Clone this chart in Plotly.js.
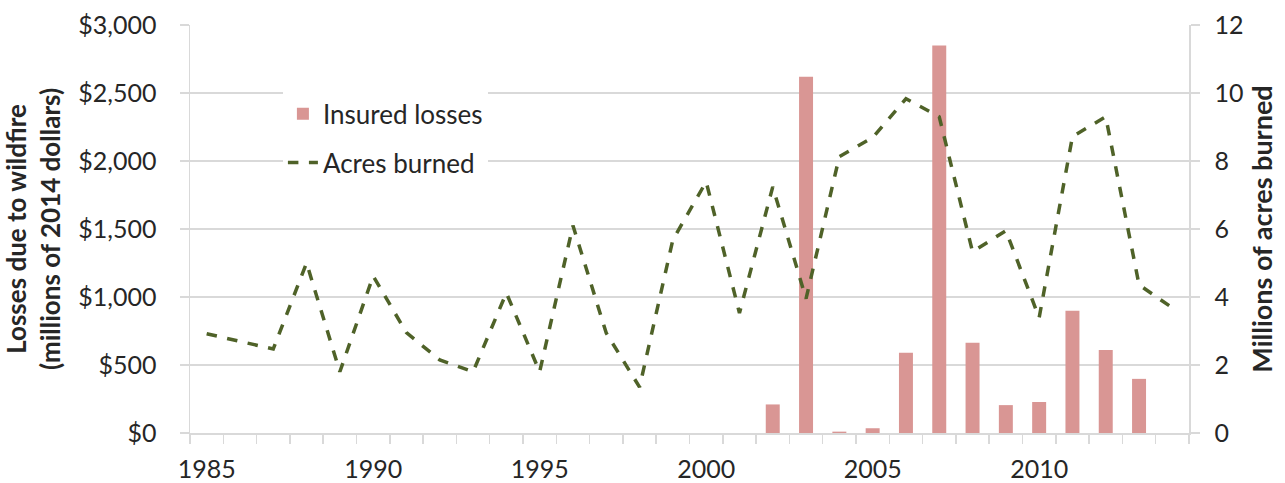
<!DOCTYPE html>
<html>
<head>
<meta charset="utf-8">
<script src="https://cdn.plot.ly/plotly-3.0.1.min.js"></script>
<style>html,body{margin:0;padding:0;background:#fff;}#chart{width:1285px;height:483px;}</style>
</head>
<body>
<div id="chart"></div>
<script>
const years = [1985,1986,1987,1988,1989,1990,1991,1992,1993,1994,1995,1996,1997,1998,1999,2000,2001,2002,2003,2004,2005,2006,2007,2008,2009,2010,2011,2012,2013,2014];
const acresBurned = [2.92,2.7,2.47,5.0,1.8,4.62,2.95,2.15,1.8,4.12,1.8,6.1,2.94,1.35,5.68,7.39,3.53,7.24,3.95,8.13,8.69,9.83,9.3,5.33,5.95,3.39,8.72,9.3,4.36,3.68];
const lossYears = [2002,2003,2004,2005,2006,2007,2008,2009,2010,2011,2012,2013];
const insuredLosses = [210,2620,10,35,590,2850,663,205,228,898,611,398];
const leftTickVals = [0,500,1000,1500,2000,2500,3000];
const leftTickText = ['$0','$500','$1,000','$1,500','$2,000','$2,500','$3,000'];
const rightTickVals = [0,2,4,6,8,10,12];
const xLabelYears = [1985,1990,1995,2000,2005,2010];

const font = 'Lato, "Open Sans", sans-serif';
const grid = '#d9d9d9';
const txt = '#262626';

const traces = [
  {type:'bar', x: lossYears, y: insuredLosses, name:'Insured losses', marker:{color:'#d99694'}, width:0.42, yaxis:'y', legendgroup:'a'},
  {type:'scatter', mode:'lines', x: years, y: acresBurned, name:'Acres burned', line:{color:'#4f6228', width:3.5, dash:'dash'}, yaxis:'y2', legendgroup:'b'}
];

const layout = {
  width:1285, height:483,
  margin:{l:190, r:96, t:25, b:50},
  paper_bgcolor:'#fff', plot_bgcolor:'#fff',
  font:{family:font, color:txt, size:25},
  showlegend:true,
  legend:{x:0.093, y:0.84, xanchor:'left', yanchor:'top', bgcolor:'#fff', font:{size:26, color:txt, family:font}, traceorder:'grouped', tracegroupgap:12, itemwidth:30},
  xaxis:{range:[1984.5,2014.5], tickvals:xLabelYears, ticktext:xLabelYears.map(String), ticks:'', showgrid:false, zeroline:false,
    showline:true, linecolor:grid, linewidth:1.5, tickfont:{size:25, color:txt}, ticklabelstandoff:13,
    minor:{tick0:1984.5, dtick:1, ticks:'outside', ticklen:9, tickcolor:grid, tickwidth:1.5, showgrid:false}},
  yaxis:{range:[0,3000], tickvals:leftTickVals, ticktext:leftTickText, ticks:'outside', ticklen:9, tickcolor:grid, tickwidth:1.5,
    showgrid:true, gridcolor:grid, gridwidth:1.5, zeroline:false, showline:true, linecolor:grid, linewidth:1.5,
    tickfont:{size:25, color:txt}, automargin:false, ticklabelstandoff:18,
    title:{text:'<b>Losses due to wildfire<br>(millions of 2014 dollars)</b>', font:{size:26, color:txt}, standoff:10}},
  yaxis2:{range:[0,12], overlaying:'y', side:'right', tickvals:rightTickVals, ticks:'outside', ticklen:9, tickcolor:grid, tickwidth:1.5,
    showgrid:false, zeroline:false, showline:true, linecolor:grid, linewidth:1.5, tickfont:{size:25, color:txt}, automargin:false, ticklabelstandoff:10,
    title:{text:'<b>Millions of acres burned</b>', font:{size:27, color:txt}, standoff:10}},
  bargap:0.48
};

Plotly.newPlot('chart', traces, layout, {displayModeBar:false, staticPlot:true});
</script>
</body>
</html>
